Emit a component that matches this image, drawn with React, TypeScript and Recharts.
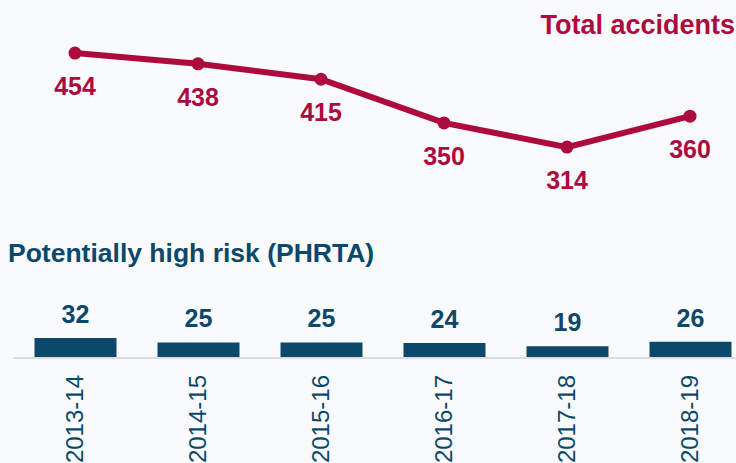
import { Bar, ComposedChart, LabelList, Line, XAxis, YAxis } from "recharts";

const years = ["2013-14", "2014-15", "2015-16", "2016-17", "2017-18", "2018-19"];
const totalAccidents = [454, 438, 415, 350, 314, 360];
const phrta = [32, 25, 25, 24, 19, 26];

const RED = "#AD0B3E";
const BLUE = "#0B4869";
const FONT = "'Liberation Sans', Arial, sans-serif";

const data = years.map((year, i) => ({
  year,
  total: totalAccidents[i],
  phrta: phrta[i],
}));

function YearTick({ x, y, payload }: any) {
  const bx = x + 8;
  const by = y + 17;
  return (
    <text
      x={bx}
      y={by}
      transform={`rotate(-90, ${bx}, ${by})`}
      textAnchor="end"
      fill={BLUE}
      fontSize={24}
      fontFamily={FONT}
    >
      {payload.value}
    </text>
  );
}

function LineLabel({ x, y, value }: any) {
  return (
    <text x={x} y={y + 42} textAnchor="middle" fill={RED} fontSize={25} fontWeight="bold" fontFamily={FONT}>
      {value}
    </text>
  );
}

function BarLabel({ x, y, width, value }: any) {
  return (
    <text x={x + width / 2} y={y - 15} textAnchor="middle" fill={BLUE} fontSize={25} fontWeight="bold" fontFamily={FONT}>
      {value}
    </text>
  );
}

export default function App() {
  return (
    <div
      style={{
        position: "relative",
        width: 736,
        height: 463,
        overflow: "hidden",
        background: "#F9FAFC",
        fontFamily: FONT,
      }}
    >
      <style>{"body{margin:0}"}</style>
      <ComposedChart
        width={760}
        height={463}
        data={data}
        margin={{ top: 0, right: 8.5, left: 13.5, bottom: 0 }}
      >
        <XAxis
          dataKey="year"
          height={105}
          interval={0}
          tickLine={false}
          tickSize={0}
          tickMargin={0}
          axisLine={{ stroke: "#DCDCDC", strokeWidth: 2 }}
          tick={<YearTick />}
        />
        <YAxis yAxisId="bar" hide domain={[0, 573]} />
        <YAxis yAxisId="line" hide domain={[0, 533]} />
        <Bar yAxisId="bar" dataKey="phrta" fill={BLUE} barSize={82} isAnimationActive={false}>
          <LabelList dataKey="phrta" content={<BarLabel />} />
        </Bar>
        <Line
          yAxisId="line"
          dataKey="total"
          stroke={RED}
          strokeWidth={6}
          dot={{ r: 6.5, fill: RED, stroke: RED, strokeWidth: 0 }}
          activeDot={false}
          isAnimationActive={false}
        >
          <LabelList dataKey="total" content={<LineLabel />} />
        </Line>
      </ComposedChart>
      <div
        style={{
          position: "absolute",
          right: 1,
          top: 10,
          color: RED,
          fontSize: 27,
          fontWeight: "bold",
          whiteSpace: "nowrap",
          lineHeight: "30px",
        }}
      >
        Total accidents
      </div>
      <div
        style={{
          position: "absolute",
          left: 8,
          top: 238,
          color: BLUE,
          fontSize: 26.5,
          fontWeight: "bold",
          whiteSpace: "nowrap",
          lineHeight: "30px",
        }}
      >
        Potentially high risk (PHRTA)
      </div>
    </div>
  );
}
